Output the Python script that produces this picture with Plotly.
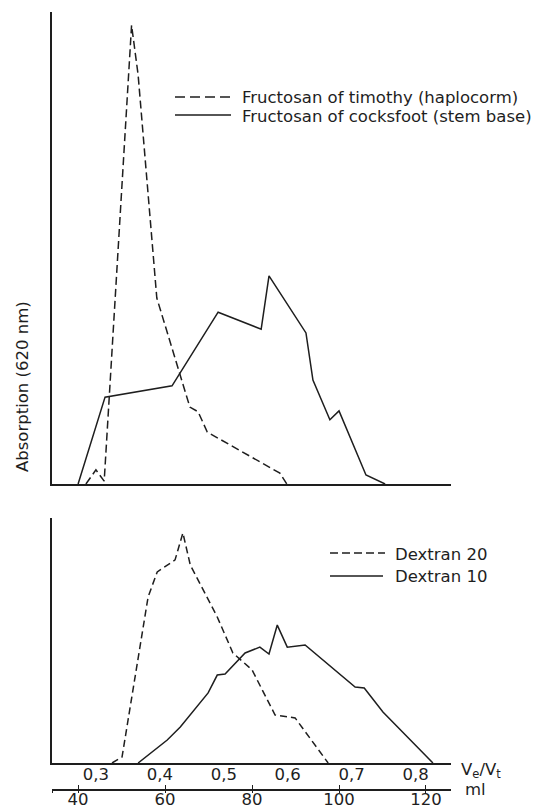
import plotly.graph_objects as go

# ---------------- data (elution volume in ml, relative absorption at 620 nm) -------------
timothy_ml = [41.8, 44.1, 46.0, 52.3, 53.8, 58.1, 65.7, 67.6, 69.7, 86.4, 88.0]
timothy_abs = [0.0, 0.030, 0.006, 0.972, 0.867, 0.394, 0.163, 0.153, 0.110, 0.023, 0.0]

cocksfoot_ml = [40.0, 46.2, 61.6, 72.2, 82.1, 83.9, 92.4, 94.0, 97.9, 100.0, 106.2, 110.6]
cocksfoot_abs = [0.0, 0.184, 0.208, 0.364, 0.328, 0.441, 0.320, 0.220, 0.136, 0.155, 0.019, 0.0]

dextran20_ml = [47.8, 50.1, 56.1, 58.2, 62.3, 64.1, 65.8, 72.0, 75.6, 80.0, 85.3, 89.9, 97.5]
dextran20_abs = [0.0, 0.024, 0.678, 0.780, 0.829, 0.939, 0.808, 0.596, 0.449, 0.380, 0.196, 0.184, 0.0]

dextran10_ml = [53.8, 60.5, 63.5, 69.9, 72.0, 73.8, 78.4, 81.8, 83.9, 85.8, 88.1, 92.2,
                103.7, 105.8, 110.1, 121.6]
dextran10_abs = [0.0, 0.094, 0.147, 0.286, 0.359, 0.363, 0.449, 0.473, 0.445, 0.563, 0.473,
                 0.482, 0.310, 0.306, 0.208, 0.0]

ml_ticks = [40, 60, 80, 100, 120]
ml_labels = ["40", "60", "80", "100", "120"]
ve_vt_ticks = [0.3, 0.4, 0.5, 0.6, 0.7, 0.8]
ve_vt_labels = ["0,3", "0,4", "0,5", "0,6", "0,7", "0,8"]
total_volume_ml = 147.0
x_range = [34.0, 125.75]

legend_top = ["Fructosan of timothy (haplocorm)", "Fructosan of cocksfoot (stem base)"]
legend_bottom = ["Dextran 20", "Dextran 10"]

# ---------------- styling -------------
INK = "#1e1e1e"
FONT = "DejaVu Sans"
FS = 16.5
W, H = 540, 808
ML, MR, MT, MB = 52, 89, 12, 19
PW, PH = W - ML - MR, H - MT - MB


def px_x(px):
    return (px - ML) / PW


def px_y(py):
    return (H - MB - py) / PH


fig = go.Figure()

fig.add_trace(go.Scatter(x=timothy_ml, y=timothy_abs, mode="lines", xaxis="x", yaxis="y",
                         line=dict(color=INK, width=1.5, dash="8px,4px"), name=legend_top[0]))
fig.add_trace(go.Scatter(x=cocksfoot_ml, y=cocksfoot_abs, mode="lines", xaxis="x", yaxis="y",
                         line=dict(color=INK, width=1.5), name=legend_top[1]))
fig.add_trace(go.Scatter(x=dextran20_ml, y=dextran20_abs, mode="lines", xaxis="x2", yaxis="y2",
                         line=dict(color=INK, width=1.5, dash="7px,4px"), name=legend_bottom[0]))
fig.add_trace(go.Scatter(x=dextran10_ml, y=dextran10_abs, mode="lines", xaxis="x2", yaxis="y2",
                         line=dict(color=INK, width=1.5), name=legend_bottom[1]))
# carriers for the ml scale axes
fig.add_trace(go.Scatter(x=[], y=[], xaxis="x3", yaxis="y3", showlegend=False, hoverinfo="skip"))
fig.add_trace(go.Scatter(x=[], y=[], xaxis="x4", yaxis="y3", showlegend=False, hoverinfo="skip"))

axis_common = dict(showgrid=False, zeroline=False, linecolor=INK, linewidth=1.5,
                   automargin=False)

top_dom = [px_y(484), 1.0]
bot_dom = [px_y(763), px_y(518)]

fig.update_layout(
    width=W, height=H,
    margin=dict(l=ML, r=MR, t=MT, b=MB, autoexpand=False),
    paper_bgcolor="white", plot_bgcolor="rgba(0,0,0,0)",
    showlegend=False,
    font=dict(family=FONT, size=FS, color=INK),
    xaxis=dict(anchor="y", range=x_range, showline=True, showticklabels=False, ticks="",
               **axis_common),
    yaxis=dict(anchor="x", domain=top_dom, range=[0, 1], showline=True, showticklabels=False,
               ticks="", **axis_common),
    xaxis2=dict(anchor="y2", range=x_range, showline=True, ticks="",
                tickmode="array", tickvals=[v * total_volume_ml for v in ve_vt_ticks],
                ticktext=ve_vt_labels, tickfont=dict(family=FONT, size=FS, color=INK),
                ticklabelstandoff=-5,
                **axis_common),
    yaxis2=dict(anchor="x2", domain=bot_dom, range=[0, 1], showline=True, showticklabels=False,
                ticks="", **axis_common),
    xaxis3=dict(anchor="y3", range=x_range, showline=True, ticks="inside", ticklen=4,
                tickwidth=1.3, tickcolor=INK,
                tickmode="array", tickvals=ml_ticks, ticklabelstandoff=-6,
                ticktext=ml_labels, tickfont=dict(family=FONT, size=FS, color=INK),
                **axis_common),
    xaxis4=dict(anchor="y3", overlaying="x3", range=x_range, showline=False, ticks="outside",
                ticklen=3, tickwidth=1.3, tickcolor=INK, showticklabels=False,
                tickmode="array", tickvals=[x_range[0] + 0.15] + ml_ticks,
                showgrid=False, zeroline=False, automargin=False),
    yaxis3=dict(anchor="x3", domain=[0, 0.005], visible=False, range=[0, 1],
                automargin=False),
)

annotations = [
    dict(text="Absorption (620 nm)", textangle=-90, x=px_x(22), y=px_y(387),
         xanchor="center", yanchor="middle"),
    dict(text="V<sub>e</sub>/V<sub>t</sub>", x=px_x(459), y=px_y(770),
         xanchor="left", yanchor="middle"),
    dict(text="ml", x=px_x(463), y=px_y(789), xanchor="left", yanchor="middle"),
    dict(text=legend_top[0], x=px_x(240), y=px_y(97), xanchor="left", yanchor="middle"),
    dict(text=legend_top[1], x=px_x(240), y=px_y(116), xanchor="left", yanchor="middle"),
    dict(text=legend_bottom[0], x=px_x(393), y=px_y(554), xanchor="left", yanchor="middle"),
    dict(text=legend_bottom[1], x=px_x(393), y=px_y(576), xanchor="left", yanchor="middle"),
]
for a in annotations:
    a.update(xref="paper", yref="paper", showarrow=False,
             font=dict(family=FONT, size=FS, color=INK))
fig.update_layout(annotations=annotations)

legend_samples = [
    (175, 231, 97, "10px,5px"),
    (175, 231, 115, "solid"),
    (330, 385, 553, "8px,4px"),
    (330, 383, 576, "solid"),
]
for x0, x1, yy, dash in legend_samples:
    fig.add_shape(type="line", xref="paper", yref="paper",
                  x0=px_x(x0), x1=px_x(x1), y0=px_y(yy), y1=px_y(yy),
                  line=dict(color=INK, width=1.5, dash=dash))

fig.write_html("out.html", config={"displayModeBar": False},
               post_script="document.body.style.margin='0';")
